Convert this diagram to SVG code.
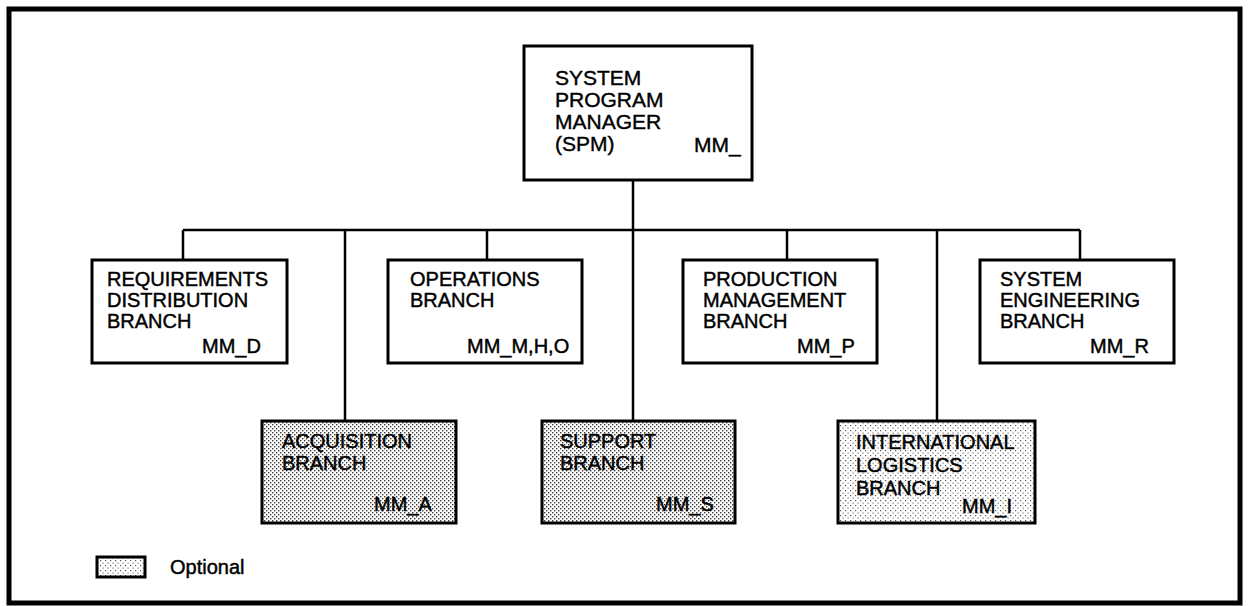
<svg xmlns="http://www.w3.org/2000/svg" width="1248" height="606" viewBox="0 0 1248 606">
<defs>
<pattern id="dots" width="4" height="4" patternUnits="userSpaceOnUse">
<rect width="4" height="4" fill="#ffffff"/>
<rect x="0" y="0" width="1.4" height="1.4" fill="#3a3a3a"/>
<rect x="2" y="2" width="1.4" height="1.4" fill="#3a3a3a"/>
</pattern>
<pattern id="dotsLight" width="5" height="5" patternUnits="userSpaceOnUse">
<rect width="5" height="5" fill="#ffffff"/>
<rect x="0" y="0" width="1.2" height="1.2" fill="#555555"/>
<rect x="2.5" y="2.5" width="1.2" height="1.2" fill="#777777"/>
</pattern>
</defs>
<style>
.box{fill:#ffffff;stroke:#000000;stroke-width:3}
.opt{fill:url(#dots);stroke:#000000;stroke-width:3}
.optl{fill:url(#dotsLight);stroke:#000000;stroke-width:3}
.t{font-family:"Liberation Sans",Arial,sans-serif;font-size:20px;fill:#000000;stroke:#000000;stroke-width:0.45}
.tt{font-family:"Liberation Sans",Arial,sans-serif;font-size:21px;fill:#000000;stroke:#000000;stroke-width:0.4}
.c{fill:none;stroke:#000000;stroke-width:2.5}
.frame{fill:none;stroke:#000000;stroke-width:5}
</style>
<rect width="1248" height="606" fill="#ffffff"/>
<rect class="frame" x="9" y="9" width="1231" height="594"/>
<g id="connectors">
<line class="c" x1="633" y1="180" x2="633" y2="421"/>
<line class="c" x1="183" y1="230" x2="1080" y2="230"/>
<line class="c" x1="183" y1="230" x2="183" y2="260"/>
<line class="c" x1="345" y1="230" x2="345" y2="421"/>
<line class="c" x1="487" y1="230" x2="487" y2="260"/>
<line class="c" x1="787" y1="230" x2="787" y2="260"/>
<line class="c" x1="937" y1="230" x2="937" y2="421"/>
<line class="c" x1="1080" y1="230" x2="1080" y2="260"/>
</g>
<g id="spm">
<rect class="box" x="524" y="46" width="228" height="134"/>
<text class="tt" x="555" y="85">SYSTEM</text>
<text class="tt" x="555" y="107">PROGRAM</text>
<text class="tt" x="555" y="129">MANAGER</text>
<text class="tt" x="555" y="151">(SPM)</text>
<text class="tt" x="694" y="152">MM_</text>
</g>
<g id="req">
<rect class="box" x="92" y="260" width="195" height="103"/>
<text class="t" x="107" y="286">REQUIREMENTS</text>
<text class="t" x="107" y="307">DISTRIBUTION</text>
<text class="t" x="107" y="328">BRANCH</text>
<text class="t" x="202" y="353">MM_D</text>
</g>
<g id="ops">
<rect class="box" x="388" y="260" width="194" height="103"/>
<text class="t" x="410" y="286">OPERATIONS</text>
<text class="t" x="410" y="307">BRANCH</text>
<text class="t" x="467" y="353">MM_M,H,O</text>
</g>
<g id="prod">
<rect class="box" x="683" y="260" width="194" height="103"/>
<text class="t" x="703" y="286">PRODUCTION</text>
<text class="t" x="703" y="307">MANAGEMENT</text>
<text class="t" x="703" y="328">BRANCH</text>
<text class="t" x="797" y="353">MM_P</text>
</g>
<g id="syseng">
<rect class="box" x="980" y="260" width="194" height="103"/>
<text class="t" x="1000" y="286">SYSTEM</text>
<text class="t" x="1000" y="307">ENGINEERING</text>
<text class="t" x="1000" y="328">BRANCH</text>
<text class="t" x="1090" y="353">MM_R</text>
</g>
<g id="acq">
<rect class="opt" x="262" y="421" width="194" height="102"/>
<text class="t" x="282" y="448">ACQUISITION</text>
<text class="t" x="282" y="470">BRANCH</text>
<text class="t" x="374" y="511">MM_A</text>
</g>
<g id="sup">
<rect class="opt" x="542" y="421" width="193" height="102"/>
<text class="t" x="560" y="448">SUPPORT</text>
<text class="t" x="560" y="470">BRANCH</text>
<text class="t" x="656" y="511">MM_S</text>
</g>
<g id="intl">
<rect class="optl" x="838" y="421" width="197" height="102"/>
<text class="t" x="856" y="449">INTERNATIONAL</text>
<text class="t" x="856" y="472">LOGISTICS</text>
<text class="t" x="856" y="495">BRANCH</text>
<text class="t" x="962" y="513">MM_I</text>
</g>
<g id="legend">
<rect class="optl" x="97" y="557" width="48" height="20"/>
<text class="t" x="170" y="574">Optional</text>
</g>
</svg>
